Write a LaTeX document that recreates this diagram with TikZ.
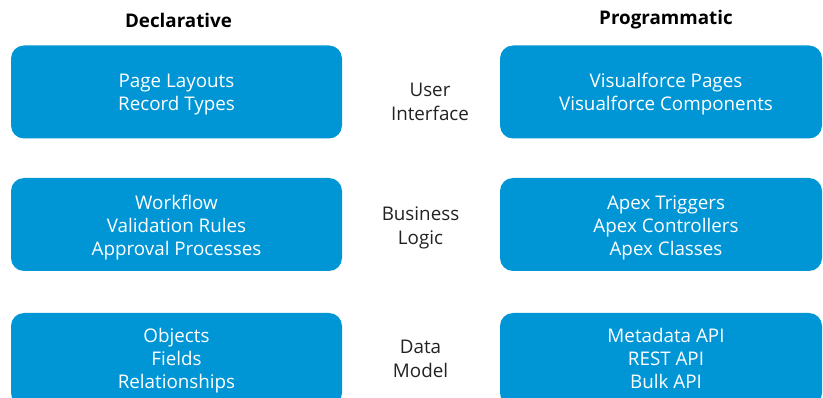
\documentclass[tikz,border=0pt]{standalone}
\usepackage{fontspec}
\setmainfont{Open Sans}
\definecolor{sfblue}{HTML}{0096D6}
\definecolor{labelgray}{HTML}{222222}
\tikzset{
  bluebox/.style={fill=sfblue, draw=none, rounded corners=13pt, minimum width=331pt, minimum height=93pt, inner sep=0pt},
  boxtext/.style={text=white, align=center, font=\fontsize{18.8}{23}\selectfont},
  midlabel/.style={text=labelgray, align=center, font=\fontsize{18.8}{24}\selectfont},
  header/.style={text=black, font=\bfseries\fontsize{18.8}{22}\selectfont}
}
\begin{document}
\begin{tikzpicture}[x=1pt,y=-1pt]
\useasboundingbox (0,0) rectangle (823,398);
\clip (0,0) rectangle (823,398);
\node[header] (hdecl) at (178.5,20) {Declarative};
\node[header] (hprog) at (666,20) {Programmatic};
% top row
\node[bluebox] (ui-l) at (176.5,92) {};
\node[boxtext] at (176.5,94.5) {\strut Page Layouts\\Record Types\strut};
\node[bluebox, minimum width=322pt] (ui-r) at (661,92) {};
\node[boxtext] at (666,94.5) {\strut Visualforce Pages\\Visualforce Components\strut};
\node[midlabel] (ui-m) at (430,103.5) {\strut User\\Interface\strut};
% middle row
\node[bluebox] (bl-l) at (176.5,224.5) {};
\node[boxtext] at (176.5,227.5) {\strut Workflow\\Validation Rules\\Approval Processes\strut};
\node[bluebox, minimum width=322pt] (bl-r) at (661,224.5) {};
\node[boxtext] at (666,227.5) {\strut Apex Triggers\\Apex Controllers\\Apex Classes\strut};
\node[midlabel] (bl-m) at (420.5,227.5) {\strut Business\\Logic\strut};
% bottom row
\node[bluebox] (dm-l) at (176.5,359.5) {};
\node[boxtext] at (176.5,360.5) {\strut Objects\\Fields\\Relationships\strut};
\node[bluebox, minimum width=322pt] (dm-r) at (661,359.5) {};
\node[boxtext] at (666,360.5) {\strut Metadata API\\REST API\\Bulk API\strut};
\node[midlabel] (dm-m) at (420.5,360.5) {\strut Data\\Model\strut};
\end{tikzpicture}
\end{document}
